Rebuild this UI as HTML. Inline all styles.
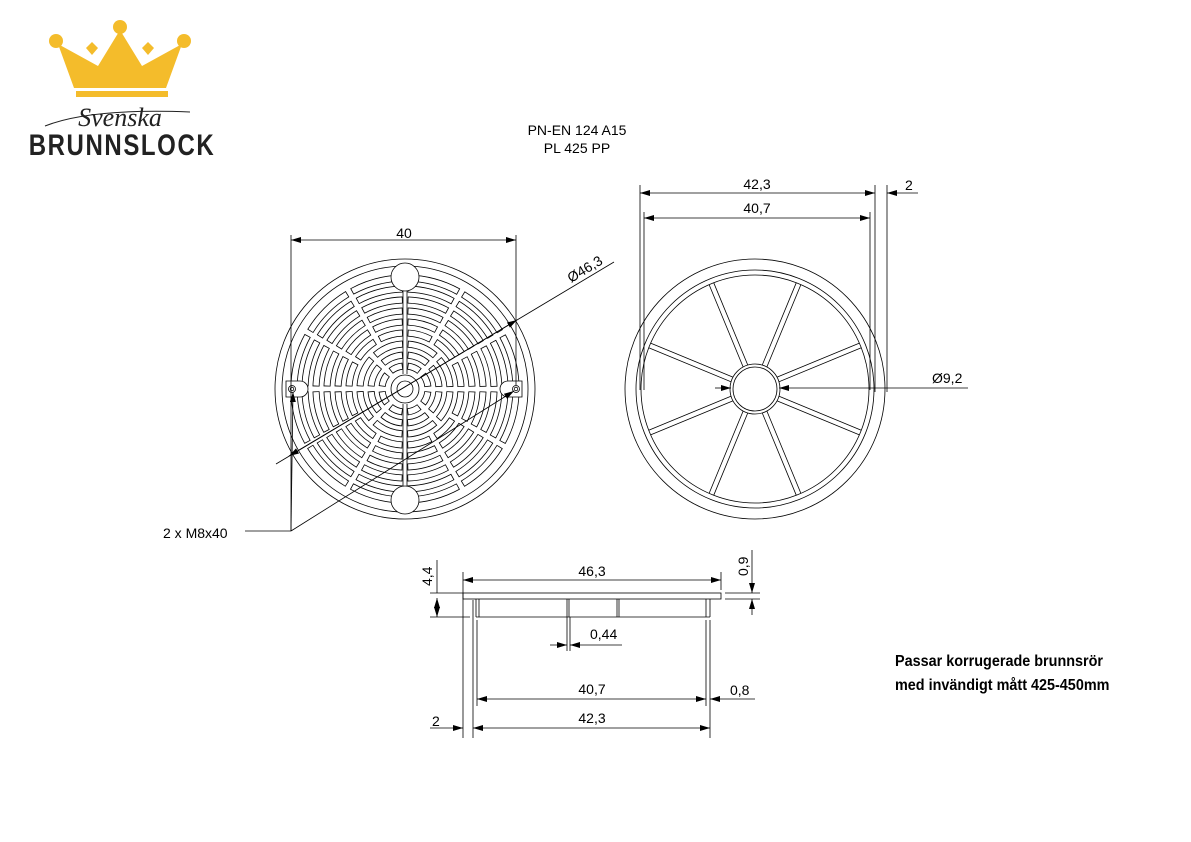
<!DOCTYPE html>
<html><head><meta charset="utf-8"><style>
html,body{margin:0;padding:0;background:#fff;}
svg{display:block;font-family:"Liberation Sans",sans-serif;}
</style></head><body>
<svg width="1191" height="842" viewBox="0 0 1191 842" xmlns="http://www.w3.org/2000/svg">
<defs>
<marker id="a" viewBox="0 0 10 6" refX="10" refY="3" markerWidth="10" markerHeight="6" markerUnits="userSpaceOnUse" orient="auto-start-reverse"><path d="M0,0L10,3L0,6z" fill="#000"/></marker>
</defs>
<!-- logo -->
<g fill="#F4BC2B">
<polygon points="58,44 98,66 120,30 142,66 182,44 166,88 74,88"/>
<circle cx="56" cy="41" r="7"/><circle cx="120" cy="27" r="7"/><circle cx="184" cy="41" r="7"/>
<rect x="76" y="91" width="92" height="6"/>
</g>
<g fill="#fff"><polygon points="84,48 92,40 100,48 92,58"/><polygon points="140,48 148,40 156,48 148,58"/></g>
<g fill="#F4BC2B"><polygon points="86,48 92,42 98,48 92,55"/><polygon points="142,48 148,42 154,48 148,55"/></g>
<text x="120" y="126" text-anchor="middle" font-family="Liberation Serif,serif" font-style="italic" font-size="26" fill="#222">Svenska</text>
<path d="M45,126 Q90,108 190,112" fill="none" stroke="#222" stroke-width="1"/>
<text x="122" y="155" text-anchor="middle" font-weight="bold" font-size="30" letter-spacing="2" fill="#222" transform="translate(122 0) scale(0.8 1) translate(-122 0)">BRUNNSLOCK</text>
<!-- titles -->
<text x="577" y="135" text-anchor="middle" font-size="14">PN-EN 124 A15</text>
<text x="577" y="153" text-anchor="middle" font-size="14">PL 425 PP</text>
<!-- left grate -->
<g fill="none" stroke="#000" stroke-width="0.8">
<circle cx="405" cy="389" r="130"/><circle cx="405" cy="389" r="123"/>
</g>
<g fill="none" stroke-linecap="butt">
<g stroke="#000" stroke-width="7" stroke-dashoffset="-2.5">
<circle cx="405" cy="389" r="23" stroke-dasharray="13.06 5"/>
<circle cx="405" cy="389" r="34" stroke-dasharray="21.70 5"/>
<circle cx="405" cy="389" r="45" stroke-dasharray="30.34 5"/>
<circle cx="405" cy="389" r="56" stroke-dasharray="24.32 5"/>
<circle cx="405" cy="389" r="67" stroke-dasharray="30.08 5"/>
<circle cx="405" cy="389" r="78" stroke-dasharray="35.84 5"/>
<circle cx="405" cy="389" r="89" stroke-dasharray="41.60 5"/>
<circle cx="405" cy="389" r="100" stroke-dasharray="47.36 5"/>
<circle cx="405" cy="389" r="111" stroke-dasharray="53.12 5"/>
</g>
<g stroke="#fff" stroke-width="5.4" stroke-dashoffset="-3.3">
<circle cx="405" cy="389" r="23" stroke-dasharray="11.46 6.6"/>
<circle cx="405" cy="389" r="34" stroke-dasharray="20.10 6.6"/>
<circle cx="405" cy="389" r="45" stroke-dasharray="28.74 6.6"/>
<circle cx="405" cy="389" r="56" stroke-dasharray="22.72 6.6"/>
<circle cx="405" cy="389" r="67" stroke-dasharray="28.48 6.6"/>
<circle cx="405" cy="389" r="78" stroke-dasharray="34.24 6.6"/>
<circle cx="405" cy="389" r="89" stroke-dasharray="40.00 6.6"/>
<circle cx="405" cy="389" r="100" stroke-dasharray="45.76 6.6"/>
<circle cx="405" cy="389" r="111" stroke-dasharray="51.52 6.6"/>
</g>
</g>
<g fill="#fff" stroke="#000" stroke-width="0.8">
<line x1="403" y1="290" x2="403" y2="374"/><line x1="407" y1="290" x2="407" y2="374"/>
<line x1="403" y1="404" x2="403" y2="486"/><line x1="407" y1="404" x2="407" y2="486"/>
<circle cx="405" cy="389" r="14"/><circle cx="405" cy="389" r="8"/>
<circle cx="405" cy="277" r="14"/><circle cx="405" cy="500" r="14"/>
<path d="M286,381 h14 a8,8 0 0 1 0,16 h-14z"/><path d="M522,381 h-14 a8,8 0 0 0 0,16 h14z"/>
<circle cx="292" cy="389" r="3.5"/><circle cx="292" cy="389" r="1.8"/>
<circle cx="516" cy="389" r="3.5"/><circle cx="516" cy="389" r="1.8"/>
</g>
<!-- left dims -->
<g stroke="#000" stroke-width="0.8" fill="none">
<line x1="291" y1="235" x2="291" y2="531"/><line x1="516" y1="235" x2="516" y2="385"/>
<line x1="291" y1="240" x2="516" y2="240" marker-start="url(#a)" marker-end="url(#a)"/>
<line x1="276" y1="464" x2="614" y2="262"/>
<line x1="289" y1="456" x2="517" y2="320" marker-start="url(#a)" marker-end="url(#a)"/>
<line x1="245" y1="531" x2="291" y2="531"/>
<line x1="291" y1="531" x2="293" y2="392" marker-end="url(#a)"/>
<line x1="291" y1="531" x2="514" y2="391" marker-end="url(#a)"/>
</g>
<text x="404" y="238" text-anchor="middle" font-size="14">40</text>
<text x="0" y="0" font-size="14" transform="translate(571 283) rotate(-31)">Ø46,3</text>
<text x="163" y="538" font-size="14">2 x M8x40</text>
<!-- right view -->
<g fill="none" stroke="#000" stroke-width="0.8">
<circle cx="755" cy="389" r="130"/><circle cx="755" cy="389" r="119"/><circle cx="755" cy="389" r="114"/>
<circle cx="755" cy="389" r="25"/><circle cx="755" cy="389" r="22"/>
</g>
<g stroke="#000" stroke-width="0.8" id="spk"></g>
<script>
(function(){var g=document.getElementById('spk');var ns='http://www.w3.org/2000/svg';
for(var k=0;k<8;k++){var a=(22.5+45*k)*Math.PI/180;var c=Math.cos(a),s=Math.sin(a);
[-2.5,2.5].forEach(function(o){var px=-s*o,py=c*o;
var l=document.createElementNS(ns,'line');
l.setAttribute('x1',(755+25*c+px).toFixed(1));l.setAttribute('y1',(389+25*s+py).toFixed(1));
l.setAttribute('x2',(755+114*c+px).toFixed(1));l.setAttribute('y2',(389+114*s+py).toFixed(1));g.appendChild(l);});}
})();
</script>
<g stroke="#000" stroke-width="0.8" fill="none">
<line x1="640" y1="185" x2="640" y2="390"/><line x1="644" y1="212" x2="644" y2="390"/>
<line x1="870" y1="212" x2="870" y2="390"/><line x1="875" y1="185" x2="875" y2="392"/><line x1="887" y1="185" x2="887" y2="392"/>
<line x1="640" y1="193" x2="875" y2="193" marker-start="url(#a)" marker-end="url(#a)"/>
<line x1="644" y1="218" x2="870" y2="218" marker-start="url(#a)" marker-end="url(#a)"/>
<line x1="918" y1="193" x2="887" y2="193" marker-end="url(#a)"/>
<line x1="715" y1="388" x2="731" y2="388" marker-end="url(#a)"/>
<line x1="968" y1="388" x2="779" y2="388" marker-end="url(#a)"/>
</g>
<text x="757" y="189" text-anchor="middle" font-size="14">42,3</text>
<text x="757" y="213" text-anchor="middle" font-size="14">40,7</text>
<text x="905" y="190" font-size="14">2</text>
<text x="932" y="383" font-size="14">Ø9,2</text>
<!-- bottom side view -->
<g stroke="#000" stroke-width="0.8" fill="none">
<rect x="463" y="593" width="258" height="6"/>
<line x1="476" y1="599" x2="476" y2="617"/><line x1="479" y1="599" x2="479" y2="617"/>
<line x1="567" y1="599" x2="567" y2="617"/><line x1="569" y1="599" x2="569" y2="617"/>
<line x1="617" y1="599" x2="617" y2="617"/><line x1="619" y1="599" x2="619" y2="617"/>
<line x1="706" y1="599" x2="706" y2="617"/><line x1="710" y1="599" x2="710" y2="617"/>
<line x1="476" y1="617" x2="710" y2="617"/>
<line x1="430" y1="593" x2="463" y2="593"/><line x1="430" y1="617" x2="470" y2="617"/>
<line x1="437" y1="560" x2="437" y2="593"/>
<line x1="437" y1="598" x2="437" y2="617" marker-start="url(#a)" marker-end="url(#a)"/>
<line x1="463" y1="572" x2="463" y2="738"/><line x1="473" y1="600" x2="473" y2="738"/>
<line x1="477" y1="620" x2="477" y2="706"/><line x1="706" y1="620" x2="706" y2="706"/><line x1="710" y1="620" x2="710" y2="738"/>
<line x1="721" y1="572" x2="721" y2="590"/>
<line x1="463" y1="580" x2="721" y2="580" marker-start="url(#a)" marker-end="url(#a)"/>
<line x1="725" y1="593" x2="760" y2="593"/><line x1="725" y1="599" x2="760" y2="599"/>
<line x1="752" y1="550" x2="752" y2="593" marker-end="url(#a)"/>
<line x1="752" y1="615" x2="752" y2="599" marker-end="url(#a)"/>
<line x1="567" y1="617" x2="567" y2="651"/><line x1="570" y1="617" x2="570" y2="651"/>
<line x1="550" y1="645" x2="567" y2="645" marker-end="url(#a)"/>
<line x1="622" y1="645" x2="570" y2="645" marker-end="url(#a)"/>
<line x1="477" y1="699" x2="706" y2="699" marker-start="url(#a)" marker-end="url(#a)"/>
<line x1="755" y1="699" x2="710" y2="699" marker-end="url(#a)"/>
<line x1="473" y1="728" x2="710" y2="728" marker-start="url(#a)" marker-end="url(#a)"/>
<line x1="430" y1="728" x2="463" y2="728" marker-end="url(#a)"/>
</g>
<text x="592" y="576" text-anchor="middle" font-size="14">46,3</text>
<text x="0" y="0" font-size="14" transform="translate(432 586) rotate(-90)">4,4</text>
<text x="0" y="0" font-size="14" transform="translate(748 576) rotate(-90)">0,9</text>
<text x="590" y="639" font-size="14">0,44</text>
<text x="592" y="694" text-anchor="middle" font-size="14">40,7</text>
<text x="730" y="695" font-size="14">0,8</text>
<text x="592" y="723" text-anchor="middle" font-size="14">42,3</text>
<text x="432" y="726" font-size="14">2</text>
<text x="895" y="666" font-size="16" font-weight="bold" transform="translate(895 0) scale(0.9 1) translate(-895 0)">Passar korrugerade brunnsrör</text>
<text x="895" y="690" font-size="16" font-weight="bold" transform="translate(895 0) scale(0.9 1) translate(-895 0)">med invändigt mått 425-450mm</text>
</svg>
</body></html>
